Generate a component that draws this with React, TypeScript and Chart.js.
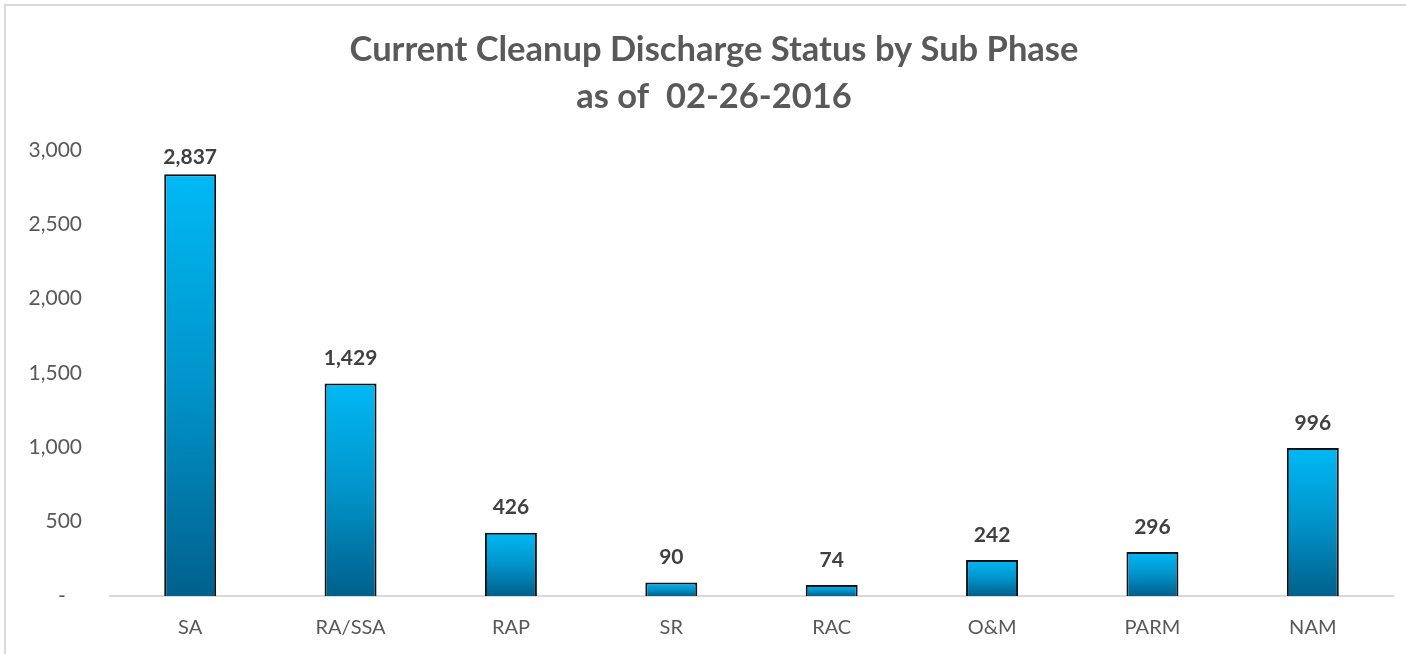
import React, { useEffect, useRef } from "react";
import { Chart, registerables } from "chart.js";

Chart.register(...registerables);

const categories = ["SA", "RA/SSA", "RAP", "SR", "RAC", "O&M", "PARM", "NAM"];
const values = [2837, 1429, 426, 90, 74, 242, 296, 996];
const yTicks = [0, 500, 1000, 1500, 2000, 2500, 3000];
const titleLines = ["Current Cleanup Discharge Status by Sub Phase", "as of  02-26-2016"];

const FONT = "Lato, 'Open Sans', sans-serif";

export default function App() {
  const ref = useRef<HTMLCanvasElement | null>(null);

  useEffect(() => {
    const canvas = ref.current;
    if (!canvas) return;

    const titlePlugin = {
      id: "customTitle",
      afterDraw(chart: any) {
        const ctx = chart.ctx;
        ctx.save();
        ctx.fillStyle = "#595959";
        ctx.font = `bold 34.5px ${FONT}`;
        ctx.textAlign = "center";
        ctx.textBaseline = "middle";
        ctx.fillText(titleLines[0], 714, 50);
        ctx.fillText(titleLines[1], 714, 97);
        ctx.restore();
      },
    };

    const labelPlugin = {
      id: "dataLabels",
      afterDatasetsDraw(chart: any) {
        const ctx = chart.ctx;
        const meta = chart.getDatasetMeta(0);
        ctx.save();
        ctx.fillStyle = "#404040";
        ctx.font = `bold 21px ${FONT}`;
        ctx.textAlign = "center";
        ctx.textBaseline = "middle";
        meta.data.forEach((bar: any, i: number) => {
          const y = Math.max(bar.y - 25, chart.chartArea.top + 7);
          ctx.fillText(values[i].toLocaleString("en-US"), bar.x, y);
        });
        ctx.restore();
      },
    };

    const chart = new Chart(canvas, {
      type: "bar",
      data: {
        labels: categories,
        datasets: [
          {
            data: values,
            backgroundColor: (context: any) => {
              const c = context.chart;
              if (!c.chartArea || context.type !== "data") return "#0095d0";
              const ys = c.scales.y;
              const top = ys.getPixelForValue(context.parsed.y);
              const bottom = ys.getPixelForValue(0);
              if (!isFinite(top) || !isFinite(bottom) || top === bottom) return "#0095d0";
              const g = c.ctx.createLinearGradient(0, top, 0, bottom);
              g.addColorStop(0, "#00B9F5");
              g.addColorStop(0.5, "#0094CA");
              g.addColorStop(1, "#00608C");
              return g;
            },
            borderColor: "#111111",
            borderWidth: 2,
            borderSkipped: "start",
            barPercentage: 0.324,
            categoryPercentage: 1,
          },
        ],
      },
      options: {
        animation: false,
        responsive: false,
        maintainAspectRatio: false,
        layout: { padding: { left: 0, right: 13, top: 150, bottom: 0 } },
        plugins: {
          legend: { display: false },
          title: { display: false },
          tooltip: { enabled: false },
        },
        scales: {
          x: {
            grid: { display: false, drawTicks: false },
            border: { display: true, color: "#d9d9d9", width: 2 },
            ticks: {
              color: "#595959",
              font: { family: FONT, size: 20 },
              padding: 20,
              maxRotation: 0,
            },
            afterFit: (s: any) => {
              s.height = 58;
            },
          },
          y: {
            min: 0,
            max: 3000,
            grid: { display: false, drawTicks: false },
            border: { display: false },
            afterBuildTicks: (s: any) => {
              s.ticks = yTicks.map((v) => ({ value: v }));
            },
            ticks: {
              color: "#595959",
              font: { family: FONT, size: 21 },
              padding: 28,
              callback: (v: any) => (Number(v) === 0 ? "-   " : Number(v).toLocaleString("en-US")),
            },
            afterFit: (s: any) => {
              s.width = 110;
            },
          },
        },
      },
      plugins: [titlePlugin, labelPlugin],
    } as any);

    return () => chart.destroy();
  }, []);

  return (
    <div
      style={{
        position: "fixed",
        left: 0,
        top: 0,
        width: 1406,
        height: 654,
        overflow: "hidden",
        background: "#ffffff",
      }}
    >
      <div
        style={{
          position: "absolute",
          left: 4,
          top: 4,
          width: 1440,
          height: 700,
          borderLeft: "2px solid #d9d9d9",
          borderTop: "2px solid #d9d9d9",
        }}
      />
      <canvas
        ref={ref}
        width={1406}
        height={654}
        style={{ position: "absolute", left: 0, top: 0, width: 1406, height: 654 }}
      />
    </div>
  );
}
